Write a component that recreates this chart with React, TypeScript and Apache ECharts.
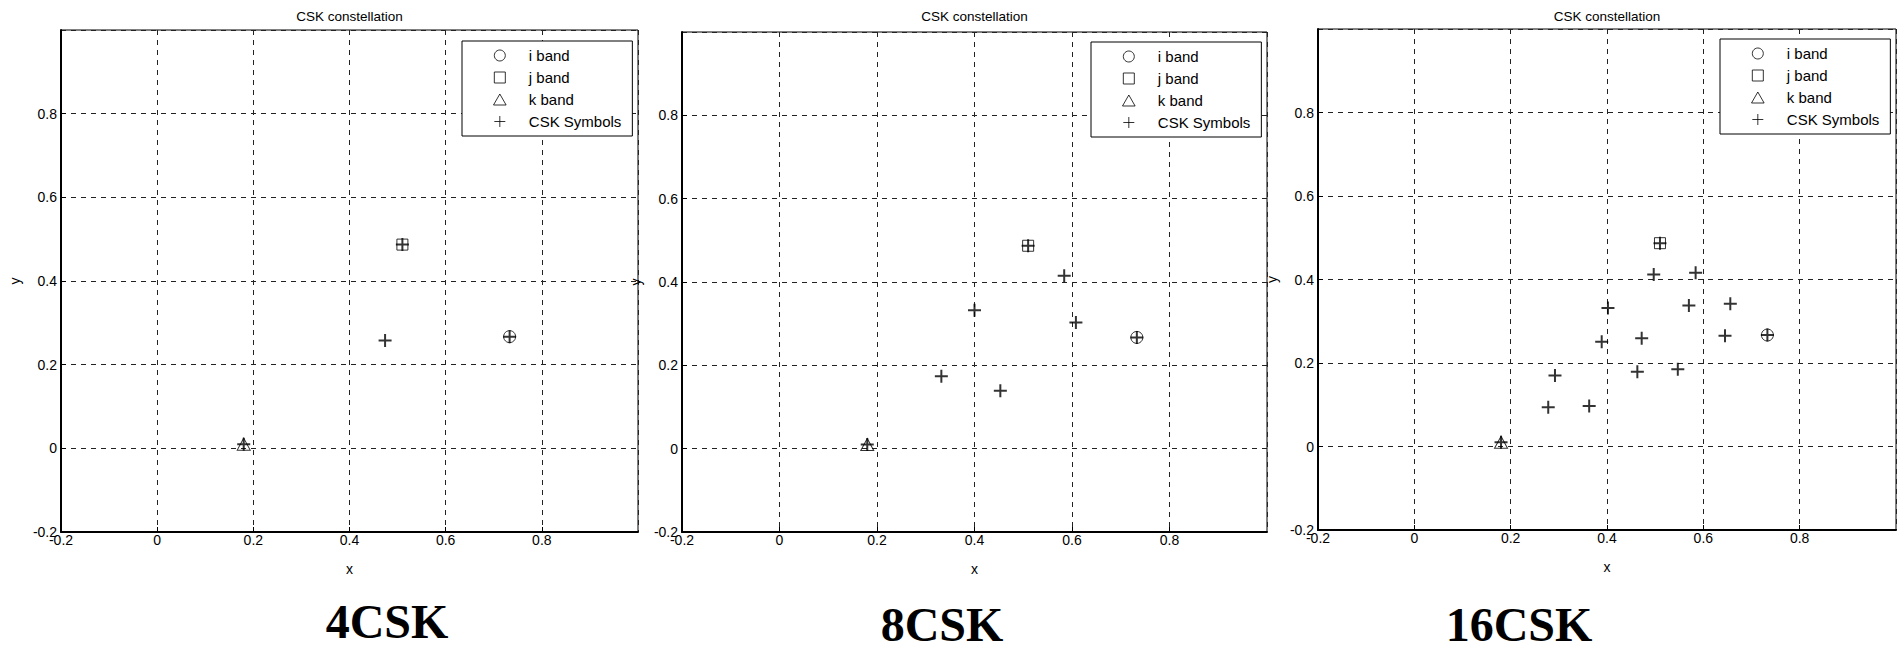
import React, { useEffect, useRef } from 'react';
import * as echarts from 'echarts';

// ---------- data ----------
const panelNames = ['4CSK', '8CSK', '16CSK'];
const chartTitle = 'CSK constellation';
const legendNames = ['i band', 'j band', 'k band', 'CSK Symbols'];
const tickValues = [-0.2, 0, 0.2, 0.4, 0.6, 0.8];
const tickLabels = ['-0.2', '0', '0.2', '0.4', '0.6', '0.8'];

const iBand = [[0.733, 0.267]];
const jBand = [[0.51, 0.487]];
const kBand = [[0.18, 0.01]];

const csk4 = [
  [0.733, 0.267], [0.51, 0.487], [0.18, 0.01], [0.474, 0.258],
];
const csk8 = [
  [0.733, 0.267], [0.51, 0.487], [0.18, 0.01],
  [0.584, 0.415], [0.4, 0.332], [0.608, 0.303], [0.332, 0.174], [0.453, 0.139],
];
const csk16 = [
  [0.733, 0.267], [0.51, 0.487], [0.18, 0.01],
  [0.497, 0.412], [0.584, 0.416], [0.402, 0.332], [0.57, 0.338], [0.656, 0.342],
  [0.389, 0.251], [0.472, 0.259], [0.645, 0.265], [0.292, 0.17], [0.463, 0.179],
  [0.547, 0.185], [0.278, 0.094], [0.363, 0.097],
];
const cskSets = [csk4, csk8, csk16];

// ---------- layout (not data) ----------
const panels = [
  { left: 61, top: 30, width: 577, height: 502, legendLeft: 462, legendTop: 41, labelX: 387, labelY: 621 },
  { left: 682, top: 32, width: 585, height: 500, legendLeft: 1091, legendTop: 42, labelX: 942, labelY: 624 },
  { left: 1318, top: 29, width: 578, height: 501, legendLeft: 1720, legendTop: 39, labelX: 1519, labelY: 624 },
];

const FONT = '"Liberation Sans", Arial, sans-serif';
const PLUS = 'path://M0,6H12M6,0V12';
const SQUARE = 'path://M0,0H10V10H0Z';
const TRIANGLE = 'path://M5,0L10.4,9.4H-0.4Z';
const hollow = (w: number) => ({ color: 'rgba(0,0,0,0)', borderColor: '#000', borderWidth: w });

const fmt = (v: number) => {
  const i = tickValues.findIndex((t) => Math.abs(t - v) < 1e-9);
  return i >= 0 ? tickLabels[i] : '';
};

export default function App() {
  const ref = useRef<HTMLDivElement>(null);

  useEffect(() => {
    if (!ref.current) return;
    const chart = echarts.init(ref.current, undefined, { renderer: 'svg' });

    const grid = panels.map((p) => ({
      left: p.left, top: p.top, width: p.width, height: p.height,
      show: true, borderColor: '#000', borderWidth: 1, backgroundColor: '#fff',
      containLabel: false,
    }));

    const axisCommon = {
      type: 'value' as const,
      min: -0.2, max: 1.0, interval: 0.2,
      axisTick: { show: true, inside: true, length: 5, lineStyle: { color: '#000' } },
      splitLine: { show: true, lineStyle: { color: '#222', type: [5, 5], width: 1 } },
      nameLocation: 'middle' as const,
      nameTextStyle: { fontFamily: FONT, fontSize: 14, color: '#000' },
    };

    const xAxis = panels.map((_, i) => ({
      ...axisCommon,
      gridIndex: i,
      name: 'x',
      nameGap: 30,
      axisLine: { show: true, onZero: false, lineStyle: { color: '#000', width: 2 } },
      axisLabel: { formatter: fmt, fontFamily: FONT, fontSize: 14, color: '#000', margin: 1, showMaxLabel: false },
    }));

    const yAxis = panels.map((_, i) => ({
      ...axisCommon,
      gridIndex: i,
      name: 'y',
      nameGap: 39,
      axisLine: { show: true, onZero: false, lineStyle: { color: '#000', width: 2 } },
      axisLabel: { formatter: fmt, fontFamily: FONT, fontSize: 14, color: '#000', margin: 4, showMaxLabel: false },
    }));

    const series: any[] = [];
    panels.forEach((_, i) => {
      series.push(
        { type: 'scatter', name: legendNames[0], xAxisIndex: i, yAxisIndex: i, data: iBand, symbol: 'circle', symbolSize: 12, itemStyle: hollow(1), silent: true, z: 2 },
        { type: 'scatter', name: legendNames[1], xAxisIndex: i, yAxisIndex: i, data: jBand, symbol: SQUARE, symbolSize: 11, itemStyle: hollow(1), silent: true, z: 2 },
        { type: 'scatter', name: legendNames[2], xAxisIndex: i, yAxisIndex: i, data: kBand, symbol: TRIANGLE, symbolSize: [13, 12], itemStyle: hollow(1), silent: true, z: 2 },
        { type: 'scatter', name: legendNames[3], xAxisIndex: i, yAxisIndex: i, data: cskSets[i], symbol: PLUS, symbolSize: 13, itemStyle: hollow(2), silent: true, z: 3 },
      );
    });

    const legendIcons = ['circle', SQUARE, TRIANGLE, PLUS];
    const legend = panels.map((p) => ({
      left: p.legendLeft, top: p.legendTop,
      orient: 'vertical' as const,
      padding: [7, 11, 7, 31],
      itemWidth: 48, itemHeight: 11, itemGap: 7,
      borderColor: '#000', borderWidth: 1, borderRadius: 0,
      backgroundColor: '#fff',
      selectedMode: false,
      symbolKeepAspect: true,
      textStyle: { fontFamily: FONT, fontSize: 15, color: '#000', lineHeight: 15 },
      data: legendNames.map((n, k) => ({ name: n, icon: legendIcons[k], itemStyle: hollow(1) })),
      z: 10,
    }));

    const graphic: any[] = [];
    panels.forEach((p, i) => {
      graphic.push({
        type: 'text', x: p.left + p.width / 2, y: 16, silent: true,
        style: { text: chartTitle, fontFamily: FONT, fontSize: 13.5, fill: '#000', align: 'center', verticalAlign: 'middle' },
      });
      graphic.push({
        type: 'text', x: p.labelX, y: p.labelY, silent: true,
        style: { text: panelNames[i], fontFamily: '"Liberation Serif", "Times New Roman", serif', fontWeight: 'bold', fontSize: 48, lineHeight: 40, fill: '#000', align: 'center', verticalAlign: 'middle' },
      });
    });

    chart.setOption({
      animation: false,
      backgroundColor: '#fff',
      grid, xAxis, yAxis, series, legend, graphic,
    });

    return () => chart.dispose();
  }, []);

  return (
    <div
      ref={ref}
      style={{ position: 'fixed', left: 0, top: 0, width: 1899, height: 650, background: '#fff' }}
    />
  );
}
